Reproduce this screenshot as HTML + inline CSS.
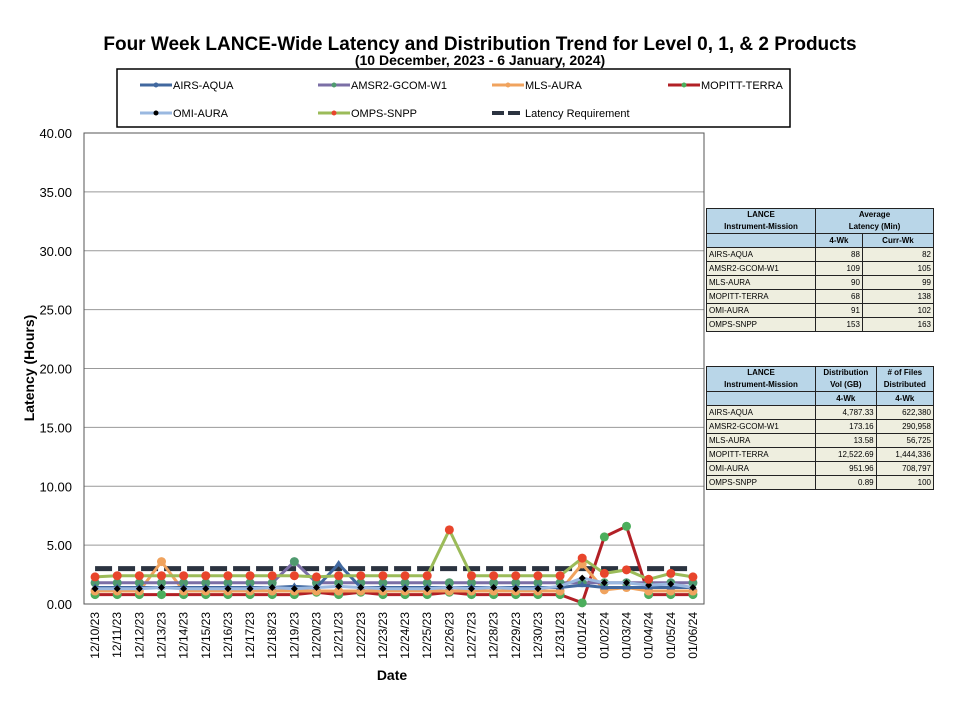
<!DOCTYPE html>
<html><head><meta charset="utf-8"><style>
body{margin:0;background:#fff;font-family:"Liberation Sans",sans-serif;}
svg text{font-family:"Liberation Sans",sans-serif;}
.tbl{position:absolute;border-collapse:collapse;font-size:8px;font-family:"Liberation Sans",sans-serif;}
.tbl td{border:1px solid #222;padding:0 2px;height:13px;line-height:12px;}
.tbl .h{background:#b9d6e8;font-weight:bold;text-align:center;}
.tbl .r{background:#eeeedf;}
.tbl .n{text-align:right;}
</style></head><body>
<div style="position:relative;width:955px;height:712px;overflow:hidden">
<svg id="chart" width="955" height="712" style="position:absolute;left:0;top:0">
<text x="480" y="50" font-size="19" font-weight="bold" text-anchor="middle">Four Week LANCE-Wide Latency and Distribution Trend for Level 0, 1, &amp; 2 Products</text>
<text x="480" y="65" font-size="14" font-weight="bold" text-anchor="middle">(10  December,  2023  -  6  January, 2024)</text>
<rect x="117" y="69" width="673" height="58" fill="#fff" stroke="#000" stroke-width="1.5"/>
<g id="legend"></g>
<g id="grid"></g>
<rect x="84" y="133" width="620" height="471" fill="none" stroke="#555"/>
<g id="series"></g>
<g id="xlabels"></g>
<text transform="translate(34,368) rotate(-90)" font-size="14" font-weight="bold" text-anchor="middle">Latency (Hours)</text>
<text x="392" y="680" font-size="14" font-weight="bold" text-anchor="middle">Date</text>
</svg>

<table class="tbl" style="left:706px;top:208px;width:228px">
<tr><td class="h" style="width:104px">LANCE<br>Instrument-Mission</td><td class="h" colspan="2">Average<br>Latency (Min)</td></tr>
<tr><td class="h"></td><td class="h">4-Wk</td><td class="h">Curr-Wk</td></tr>
<tr><td class="r">AIRS-AQUA</td><td class="r n">88</td><td class="r n">82</td></tr>
<tr><td class="r">AMSR2-GCOM-W1</td><td class="r n">109</td><td class="r n">105</td></tr>
<tr><td class="r">MLS-AURA</td><td class="r n">90</td><td class="r n">99</td></tr>
<tr><td class="r">MOPITT-TERRA</td><td class="r n">68</td><td class="r n">138</td></tr>
<tr><td class="r">OMI-AURA</td><td class="r n">91</td><td class="r n">102</td></tr>
<tr><td class="r">OMPS-SNPP</td><td class="r n">153</td><td class="r n">163</td></tr>
</table>
<table class="tbl" style="left:706px;top:366px;width:228px">
<tr><td class="h" style="width:104px">LANCE<br>Instrument-Mission</td><td class="h">Distribution<br>Vol (GB)</td><td class="h"># of Files<br>Distributed</td></tr>
<tr><td class="h"></td><td class="h">4-Wk</td><td class="h">4-Wk</td></tr>
<tr><td class="r">AIRS-AQUA</td><td class="r n">4,787.33</td><td class="r n">622,380</td></tr>
<tr><td class="r">AMSR2-GCOM-W1</td><td class="r n">173.16</td><td class="r n">290,958</td></tr>
<tr><td class="r">MLS-AURA</td><td class="r n">13.58</td><td class="r n">56,725</td></tr>
<tr><td class="r">MOPITT-TERRA</td><td class="r n">12,522.69</td><td class="r n">1,444,336</td></tr>
<tr><td class="r">OMI-AURA</td><td class="r n">951.96</td><td class="r n">708,797</td></tr>
<tr><td class="r">OMPS-SNPP</td><td class="r n">0.89</td><td class="r n">100</td></tr>
</table>
</div>
<script>
const categories=["12/10/23","12/11/23","12/12/23","12/13/23","12/14/23","12/15/23","12/16/23","12/17/23","12/18/23","12/19/23","12/20/23","12/21/23","12/22/23","12/23/23","12/24/23","12/25/23","12/26/23","12/27/23","12/28/23","12/29/23","12/30/23","12/31/23","01/01/24","01/02/24","01/03/24","01/04/24","01/05/24","01/06/24"];
const yTicks=[0,5,10,15,20,25,30,35,40];
const latencyReq=[3,3,3,3,3,3,3,3,3,3,3,3,3,3,3,3,3,3,3,3,3,3,3,3,3,3,3,3];
const airsAqua=[1.4,1.4,1.4,1.4,1.4,1.4,1.4,1.4,1.4,1.5,1.4,3.4,1.4,1.4,1.4,1.4,1.4,1.4,1.4,1.4,1.4,1.4,1.6,1.4,1.4,1.4,1.4,1.4];
const amsr2=[1.8,1.8,1.8,1.8,1.8,1.8,1.8,1.8,1.8,3.6,1.8,1.8,1.8,1.8,1.8,1.8,1.8,1.8,1.8,1.8,1.8,1.8,1.8,1.8,1.8,1.8,1.8,1.8];
const mlsAura=[1.1,1.1,1.1,3.6,1.1,1.1,1.1,1.1,1.1,1.1,1.1,1.1,1.1,1.1,1.1,1.1,1.1,1.1,1.1,1.1,1.1,1.1,3.4,1.2,1.4,1.1,1.1,1.1];
const mopittTerra=[0.8,0.8,0.8,0.8,0.8,0.8,0.8,0.8,0.8,0.8,1.0,0.8,1.0,0.8,0.8,0.8,1.0,0.8,0.8,0.8,0.8,0.8,0.1,5.7,6.6,0.8,0.8,0.8];
const omiAura=[1.3,1.3,1.3,1.4,1.3,1.3,1.3,1.3,1.4,1.3,1.4,1.5,1.4,1.3,1.3,1.3,1.4,1.3,1.4,1.3,1.3,1.5,2.2,1.8,1.8,1.6,1.7,1.4];
const ompsSnpp=[2.3,2.4,2.4,2.4,2.4,2.4,2.4,2.4,2.4,2.4,2.3,2.4,2.4,2.4,2.4,2.4,6.3,2.4,2.4,2.4,2.4,2.4,3.9,2.6,2.9,2.1,2.6,2.3];
const NS='http://www.w3.org/2000/svg';
const X0=84,X1=704,Y0=604,Y1=133;
const step=(X1-X0)/categories.length;
function xs(i){return X0+step*(i+0.5);}
function ys(v){return Y0-(v/40)*(Y0-Y1);}
function mk(tag,attrs,parent){const e=document.createElementNS(NS,tag);for(const k in attrs)e.setAttribute(k,attrs[k]);parent.appendChild(e);return e;}
const grid=document.getElementById('grid');
yTicks.forEach(t=>{
  const l=mk('line',{x1:X0,x2:X1,y1:ys(t),y2:ys(t),stroke:'#999','stroke-width':1},grid);
  
  
  const tx=mk('text',{x:72,y:ys(t)+5,'font-size':13,'text-anchor':'end'},grid);
  tx.textContent=t.toFixed(2);
  
  
});
const xl=document.getElementById('xlabels');
categories.forEach((c,i)=>{
  const t=mk('text',{transform:`translate(${xs(i)+4},${Y0+8}) rotate(-90)`,'font-size':12,'text-anchor':'end'},xl);
  t.textContent=c;
  
  
});
const S=document.getElementById('series');
function pts(arr){return arr.map((v,i)=>xs(i)+','+ys(v)).join(' ');}
// latency requirement dashed
const lr=mk('polyline',{points:pts(latencyReq),fill:'none',stroke:'#2b3340','stroke-width':5,'stroke-dasharray':'17,6'},S);


const defs=[
 {d:mopittTerra,c:'#b22026',m:'#4cae5c',name:'mopitt-terra',shape:'c'},
 {d:mlsAura,c:'#f0a35e',m:'#f0a35e',name:'mls-aura',shape:'c'},
 {d:amsr2,c:'#7b6fa6',m:'#4f9a6f',name:'amsr2-gcom-w1',shape:'c'},
 {d:airsAqua,c:'#41689f',m:'#41689f',name:'airs-aqua',shape:'t'},
 {d:omiAura,c:'#9ab8e0',m:'#000',name:'omi-aura',shape:'d'},
 {d:ompsSnpp,c:'#9bbb59',m:'#e8452c',name:'omps-snpp',shape:'c'}
];
defs.forEach(s=>{
  const g=mk('g',{},S);
  
  
  mk('polyline',{points:pts(s.d),fill:'none',stroke:s.c,'stroke-width':3},g);
  s.d.forEach((v,i)=>{
    let e;
    if(s.shape==='c') e=mk('circle',{cx:xs(i),cy:ys(v),r:4.5,fill:s.m},g);
    else if(s.shape==='d') e=mk('path',{d:`M${xs(i)} ${ys(v)-3.5}l3.5 3.5l-3.5 3.5l-3.5-3.5z`,fill:s.m},g);
    else e=mk('path',{d:`M${xs(i)} ${ys(v)-4}l4 6h-8z`,fill:s.m},g);
    
    
  });
});
// legend
const L=document.getElementById('legend');
const leg=[['AIRS-AQUA','#41689f','#41689f',140,85],['AMSR2-GCOM-W1','#7b6fa6','#4f9a6f',318,85],['MLS-AURA','#f0a35e','#f0a35e',492,85],['MOPITT-TERRA','#b22026','#4cae5c',668,85],['OMI-AURA','#9ab8e0','#000',140,113],['OMPS-SNPP','#9bbb59','#e8452c',318,113],['Latency Requirement','#2b3340',null,492,113]];
leg.forEach(([n,c,m,x,y])=>{
  const g=mk('g',{},L);
  
  
  if(m){mk('line',{x1:x,x2:x+32,y1:y,y2:y,stroke:c,'stroke-width':3},g);mk('circle',{cx:x+16,cy:y,r:2.5,fill:m},g);}
  else{mk('line',{x1:x,x2:x+32,y1:y,y2:y,stroke:c,'stroke-width':4,'stroke-dasharray':'12,4'},g);}
  const t=mk('text',{x:x+33,y:y+4,'font-size':11},g);
  t.textContent=n;
});
</script>
</body></html>
